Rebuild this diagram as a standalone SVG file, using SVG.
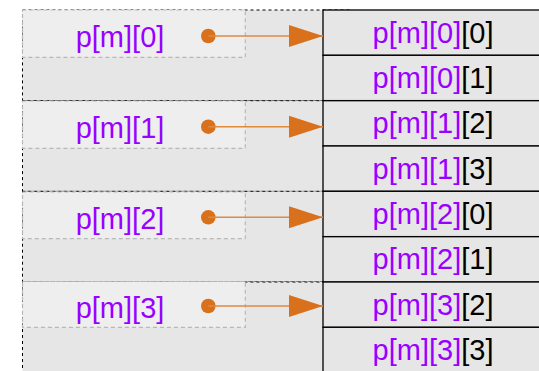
<svg xmlns="http://www.w3.org/2000/svg" width="539" height="371" viewBox="0 0 539 371">
<style>
.outer{fill:#e6e6e6;stroke:#000;stroke-width:1;stroke-dasharray:3,3}
.inner{fill:#eeeeee;stroke:#b8b8b8;stroke-width:1.2;stroke-dasharray:4,3}
.cell{fill:#e6e6e6;stroke:#000;stroke-width:1.3}
.t{font-family:"Liberation Sans",Arial,sans-serif;font-size:29px;text-anchor:middle;fill:#9900ff}
.k{fill:#000}
.dot{fill:#d9711c}
.conn{stroke:#e08a40;stroke-width:1.5;fill:none}
</style>
<defs>
<marker id="ah" markerUnits="userSpaceOnUse" markerWidth="34" markerHeight="24" refX="34" refY="12" orient="auto" viewBox="0 0 34 24">
<path d="M0,1 L34,12 L0,23 Z" fill="#d9711c"/>
</marker>
</defs>
<rect width="539" height="371" fill="#fff"/>
<g id="ptr0">
<rect class="outer" x="22.5" y="10" width="330" height="90.7"/>
<rect class="inner" x="22.5" y="10" width="222.8" height="47.3"/>
<text class="t" x="120" y="47">p[m][0]</text>
<circle class="dot" cx="208.3" cy="36" r="7.3"/>
</g>
<g id="ptr1">
<rect class="outer" x="22.5" y="100.7" width="330" height="90.7"/>
<rect class="inner" x="22.5" y="101" width="222.8" height="47.3"/>
<text class="t" x="120" y="138">p[m][1]</text>
<circle class="dot" cx="208.3" cy="126.7" r="7.3"/>
</g>
<g id="ptr2">
<rect class="outer" x="22.5" y="191.3" width="330" height="90.7"/>
<rect class="inner" x="22.5" y="192" width="222.8" height="46.7"/>
<text class="t" x="120" y="228.5">p[m][2]</text>
<circle class="dot" cx="208.3" cy="217.3" r="7.3"/>
</g>
<g id="ptr3">
<rect class="outer" x="22.5" y="282" width="330" height="100"/>
<rect class="inner" x="22.5" y="281.5" width="222.8" height="45.8"/>
<text class="t" x="120" y="318">p[m][3]</text>
<circle class="dot" cx="208.3" cy="306" r="7.3"/>
</g>
<g id="cell00"><rect class="cell" x="323" y="10" width="230" height="45.3"/><text class="t" x="433" y="42.5">p[m][0]<tspan class="k">[0]</tspan></text></g>
<g id="cell01"><rect class="cell" x="323" y="55.3" width="230" height="45.3"/><text class="t" x="433" y="87.8">p[m][0]<tspan class="k">[1]</tspan></text></g>
<g id="cell12"><rect class="cell" x="323" y="100.7" width="230" height="45.3"/><text class="t" x="433" y="133.2">p[m][1]<tspan class="k">[2]</tspan></text></g>
<g id="cell13"><rect class="cell" x="323" y="146" width="230" height="45.3"/><text class="t" x="433" y="178.5">p[m][1]<tspan class="k">[3]</tspan></text></g>
<g id="cell20"><rect class="cell" x="323" y="191.3" width="230" height="45.3"/><text class="t" x="433" y="223.8">p[m][2]<tspan class="k">[0]</tspan></text></g>
<g id="cell21"><rect class="cell" x="323" y="236.7" width="230" height="45.3"/><text class="t" x="433" y="269.2">p[m][2]<tspan class="k">[1]</tspan></text></g>
<g id="cell32"><rect class="cell" x="323" y="282" width="230" height="45.3"/><text class="t" x="433" y="314.5">p[m][3]<tspan class="k">[2]</tspan></text></g>
<g id="cell33"><rect class="cell" x="323" y="327.3" width="230" height="45.3"/><text class="t" x="433" y="359.8">p[m][3]<tspan class="k">[3]</tspan></text></g>
<g id="connectors">
<line class="conn" x1="208.3" y1="36" x2="323" y2="36" marker-end="url(#ah)"/>
<line class="conn" x1="208.3" y1="126.7" x2="323" y2="126.7" marker-end="url(#ah)"/>
<line class="conn" x1="208.3" y1="217.3" x2="323" y2="217.3" marker-end="url(#ah)"/>
<line class="conn" x1="208.3" y1="306" x2="323" y2="306" marker-end="url(#ah)"/>
</g>
</svg>
